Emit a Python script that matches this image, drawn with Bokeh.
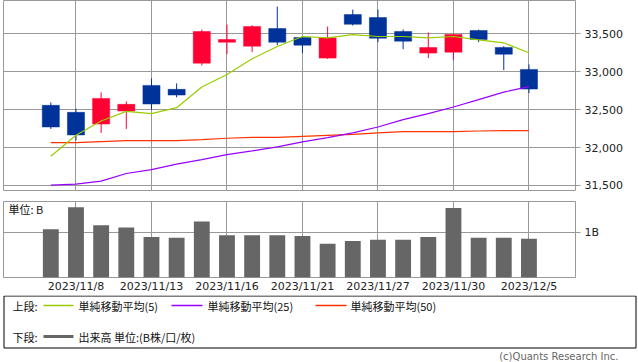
from bokeh.plotting import figure
from bokeh.layouts import column
from bokeh.models import ColumnDataSource, Range1d, FixedTicker, NumeralTickFormatter, Label
from bokeh.core.properties import value
from bokeh.embed import file_html
from bokeh.resources import INLINE

# ---------------- data ----------------
dates = ["2023/11/7", "2023/11/8", "2023/11/9", "2023/11/10", "2023/11/13",
         "2023/11/14", "2023/11/15", "2023/11/16", "2023/11/17", "2023/11/20",
         "2023/11/21", "2023/11/22", "2023/11/24", "2023/11/27", "2023/11/28",
         "2023/11/29", "2023/11/30", "2023/12/1", "2023/12/4", "2023/12/5"]
opens = [32557, 32465, 32311, 32482, 32820, 32768, 33114, 33390, 33338, 33570,
         33452, 33180, 33754, 33715, 33531, 33246, 33259, 33544, 33320, 33031]
highs = [32596, 32513, 32728, 32610, 32912, 32847, 33557, 33623, 33614, 33860,
         33465, 33596, 33820, 33820, 33557, 33518, 33500, 33557, 33338, 33096]
lows = [32246, 32096, 32193, 32246, 32500, 32662, 33083, 33232, 33259, 33351,
        33246, 33170, 33610, 33390, 33298, 33180, 33158, 33390, 33022, 32719]
closes = [32272, 32167, 32649, 32570, 32575, 32693, 33531, 33425, 33596, 33390,
          33351, 33447, 33627, 33443, 33404, 33320, 33491, 33425, 33232, 32772]
ma5 = [31886, 32162, 32351, 32478, 32447, 32526, 32798, 32965, 33171, 33333,
       33465, 33447, 33491, 33465, 33465, 33447, 33465, 33421, 33382, 33250]
ma25 = [31504, 31517, 31557, 31658, 31710, 31781, 31842, 31908, 31956, 32009,
        32075, 32132, 32193, 32272, 32368, 32447, 32535, 32632, 32732, 32803]
ma50 = [32066, 32066, 32079, 32092, 32092, 32092, 32105, 32123, 32136, 32136,
        32149, 32162, 32175, 32193, 32211, 32211, 32211, 32219, 32224, 32224]
volume_b = [1.07, 1.56, 1.16, 1.11, 0.90, 0.88, 1.24, 0.94, 0.94, 0.94,
            0.92, 0.75, 0.81, 0.84, 0.84, 0.90, 1.54, 0.88, 0.88, 0.86]
price_ticks = [31500, 32000, 32500, 33000, 33500]
date_tick_idx = [1, 4, 7, 10, 13, 16, 19]
vol_ticks = [1]
vol_tick_labels = {1: "1B"}

legend_labels = ["単純移動平均(5)", "単純移動平均(25)", "単純移動平均(50)"]
volume_legend = "出来高 単位:(B株/口/枚)"

# ---------------- styles ----------------
UP = "#ff0033"
DOWN = "#003399"
C_MA5 = "#99cc00"
C_MA25 = "#9900ff"
C_MA50 = "#ff3300"
GRID = "#999999"
BAR = "#666666"
NUM_FONT = "DejaVu Sans"
JP_FONT = "Noto Sans CJK JP"

n = len(dates)
xs = list(range(n))
x_lo, x_hi = -1.88, 20.85

src = ColumnDataSource(dict(
    x=xs,
    low=lows,
    high=highs,
    top=[max(o, c) for o, c in zip(opens, closes)],
    bottom=[min(o, c) for o, c in zip(opens, closes)],
    color=[UP if c >= o else DOWN for o, c in zip(opens, closes)],
    ma5=ma5, ma25=ma25, ma50=ma50, vol=volume_b,
))

# ---------------- price panel ----------------
p1 = figure(width=638, height=201, x_range=Range1d(x_lo, x_hi),
            y_range=Range1d(31434, 33940), y_axis_location="right",
            output_backend="svg", toolbar_location=None,
            min_border_left=3, min_border_right=63, min_border_top=0, min_border_bottom=11)
p1.xaxis.visible = False
p1.xgrid.ticker = FixedTicker(ticks=date_tick_idx)
p1.ygrid.ticker = FixedTicker(ticks=price_ticks)
for g in (p1.xgrid, p1.ygrid):
    g.grid_line_color = GRID
    g.grid_line_alpha = 1.0
    g.grid_line_width = 1
p1.yaxis.ticker = FixedTicker(ticks=price_ticks)
p1.yaxis.formatter = NumeralTickFormatter(format="0,0")
p1.yaxis.axis_line_color = None
p1.yaxis.major_tick_line_color = GRID
p1.yaxis.major_tick_out = 5
p1.yaxis.major_tick_in = 0
p1.yaxis.minor_tick_line_color = None
p1.yaxis.major_label_standoff = 4
p1.yaxis.major_label_text_font = NUM_FONT
p1.yaxis.major_label_text_font_size = "11px"
p1.yaxis.major_label_text_color = "#222222"
p1.outline_line_color = GRID
p1.outline_line_alpha = 1.0
p1.background_fill_color = "white"
p1.border_fill_color = "white"

p1.segment(x0="x", y0="low", x1="x", y1="high", color="color", line_width=1, source=src)
p1.vbar(x="x", top="top", bottom="bottom", width=0.68, fill_color="color",
        line_color="color", line_width=0.5, source=src)
p1.line("x", "ma50", color=C_MA50, line_width=1.2, source=src)
p1.line("x", "ma25", color=C_MA25, line_width=1.2, source=src)
p1.line("x", "ma5", color=C_MA5, line_width=1.2, source=src)

# ---------------- volume panel ----------------
p2 = figure(width=638, height=94, x_range=p1.x_range,
            y_range=Range1d(0, 1.686), y_axis_location="right",
            output_backend="svg", toolbar_location=None,
            min_border_left=3, min_border_right=63, min_border_top=0, min_border_bottom=15)
p2.xaxis.ticker = FixedTicker(ticks=date_tick_idx)
p2.xaxis.major_label_overrides = {i: dates[i] for i in date_tick_idx}
p2.xaxis.axis_line_color = None
p2.xaxis.major_tick_line_color = None
p2.xaxis.major_tick_out = 0
p2.xaxis.major_tick_in = 0
p2.xaxis.minor_tick_line_color = None
p2.xaxis.major_label_standoff = 2
p2.xaxis.major_label_text_font = NUM_FONT
p2.xaxis.major_label_text_font_size = "11px"
p2.xaxis.major_label_text_color = "#222222"
p2.yaxis.ticker = FixedTicker(ticks=vol_ticks)
p2.yaxis.major_label_overrides = vol_tick_labels
p2.yaxis.axis_line_color = None
p2.yaxis.major_tick_line_color = GRID
p2.yaxis.major_tick_out = 5
p2.yaxis.major_tick_in = 0
p2.yaxis.minor_tick_line_color = None
p2.yaxis.major_label_standoff = 4
p2.yaxis.major_label_text_font = NUM_FONT
p2.yaxis.major_label_text_font_size = "11px"
p2.yaxis.major_label_text_color = "#222222"
p2.xgrid.ticker = FixedTicker(ticks=date_tick_idx)
p2.ygrid.ticker = FixedTicker(ticks=vol_ticks)
for g in (p2.xgrid, p2.ygrid):
    g.grid_line_color = GRID
    g.grid_line_alpha = 1.0
p2.outline_line_color = GRID
p2.outline_line_alpha = 1.0
p2.vbar(x="x", top="vol", bottom=0, width=0.63, fill_color=BAR, line_color=None, source=src)
p2.add_layout(Label(x=x_lo + 5 / 25.16, y=1.686 - 8 / 46.9, text="単位: B",
                    text_font=JP_FONT, text_font_size="11px", text_color="#111111",
                    text_baseline="middle", text_align="left"))

# ---------------- legend / credit ----------------
p3 = figure(width=638, height=68, x_range=Range1d(0, 638), y_range=Range1d(68, 0),
            x_axis_location=None, y_axis_location=None,
            output_backend="svg", toolbar_location=None, min_border=0)
p3.grid.visible = False
p3.outline_line_color = None
p3.quad(left=3.5, right=635.5, top=0.5, bottom=52.5, fill_color=None,
        line_color="black", line_width=1)

def jp_text(x, y, t, color="#111111", align="left", font=JP_FONT, size="11px"):
    p3.text(x=[x], y=[y], text=[t], text_font=value(font), text_font_size=size,
            text_color=color, text_baseline="middle", text_align=align)

jp_text(12, 10.5, "上段:")
for (x0, x1, tx), col, lab in zip([(43, 73, 78), (171, 202, 207), (315, 346, 350)],
                                   [C_MA5, C_MA25, C_MA50], legend_labels):
    p3.segment(x0=[x0], y0=[10], x1=[x1], y1=[10], line_color=col, line_width=1.5)
    jp_text(tx, 10.5, lab)
jp_text(12, 41.5, "下段:")
p3.segment(x0=[43], y0=[41], x1=[73], y1=[41], line_color=BAR, line_width=3)
jp_text(78, 41.5, volume_legend)
jp_text(618, 61, "(c)Quants Research Inc.", color="#666666", align="right",
        font="DejaVu Sans", size="10px")

top = column(p1, p2, spacing=0)
html = file_html([top, p3], INLINE)
html = html.replace("<head>", "<head><style>body{margin:0;}</style>", 1)
open("out.html", "w").write(html)
